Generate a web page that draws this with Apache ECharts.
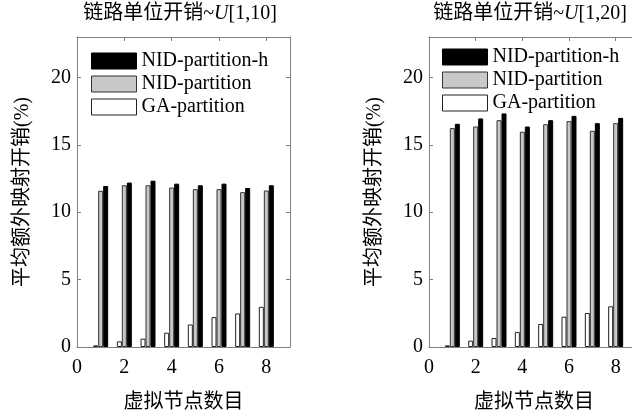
<!DOCTYPE html>
<html>
<head>
<meta charset="utf-8">
<script src="https://cdn.jsdelivr.net/npm/echarts@6/dist/echarts.min.js"></script>
<style>
html,body{margin:0;padding:0;background:#fff;}
#chart{width:632px;height:414px;}
</style>
</head>
<body>
<div id="chart"></div>
<script>
// ---- data ----
const nodeCounts = [1, 2, 3, 4, 5, 6, 7, 8];
const seriesNames = ['GA-partition', 'NID-partition', 'NID-partition-h'];
const legendOrder = ['NID-partition-h', 'NID-partition', 'GA-partition'];
const gaLeft   = [0.12, 0.42, 0.62, 1.06, 1.67, 2.22, 2.49, 2.98];
const nidLeft  = [11.59, 12.0, 12.0, 11.83, 11.71, 11.71, 11.49, 11.61];
const nidhLeft = [11.95, 12.2, 12.34, 12.12, 12.0, 12.12, 11.8, 12.0];
const gaRight   = [0.12, 0.47, 0.67, 1.12, 1.71, 2.25, 2.52, 3.02];
const nidRight  = [16.24, 16.36, 16.83, 15.97, 16.53, 16.76, 16.04, 16.61];
const nidhRight = [16.56, 16.96, 17.33, 16.36, 16.83, 17.15, 16.61, 17.0];
const xTicks = [0, 2, 4, 6, 8];
const yTicks = [0, 5, 10, 15, 20];
const titleLeft = ['链路单位开销~', 'U', '[1,10]'];
const titleRight = ['链路单位开销~', 'U', '[1,20]'];
const xTitle = '虚拟节点数目';
const yTitle = '平均额外映射开销(%)';

// ---- styles ----
const FONT = '"Liberation Serif", "Times New Roman", "Noto Sans CJK SC", serif';
const FRAME = '#7f7f7f';
const styles = {
  'GA-partition':    { color: '#ffffff', borderColor: '#222222', borderWidth: 1 },
  'NID-partition':   { color: '#c8c8c8', borderColor: '#333333', borderWidth: 1 },
  'NID-partition-h': { color: '#000000', borderColor: '#000000', borderWidth: 1 }
};

const chart = echarts.init(document.getElementById('chart'), null, { renderer: 'canvas' });

function fmtX(v) { return xTicks.indexOf(v) >= 0 ? String(v) : ''; }
function fmtY(v) { return yTicks.indexOf(v) >= 0 ? String(v) : ''; }

function xAxes(gi) {
  const base = {
    type: 'value', gridIndex: gi, min: 0, max: 9, interval: 2,
    axisLine: { show: true, onZero: false, lineStyle: { color: FRAME, width: 1 } },
    axisTick: { show: true, inside: true, length: 4, lineStyle: { color: FRAME } },
    splitLine: { show: false }
  };
  return [
    Object.assign({}, base, {
      position: 'bottom',
      axisLabel: { show: true, color: '#000', fontFamily: FONT, fontSize: 20, margin: 11, formatter: fmtX, showMaxLabel: false },
      name: xTitle, nameLocation: 'middle', nameGap: 46,
      nameTextStyle: { color: '#000', fontFamily: FONT, fontSize: 20 }
    }),
    Object.assign({}, base, { position: 'top', axisLabel: { show: false } })
  ];
}
function yAxes(gi) {
  const base = {
    type: 'value', gridIndex: gi, min: 0, max: 23, interval: 5,
    axisLine: { show: true, onZero: false, lineStyle: { color: FRAME, width: 1 } },
    axisTick: { show: true, inside: true, length: 4, lineStyle: { color: FRAME } },
    splitLine: { show: false }
  };
  return [
    Object.assign({}, base, {
      position: 'left',
      axisLabel: { show: true, color: '#000', fontFamily: FONT, fontSize: 20, margin: 6, formatter: fmtY, showMaxLabel: false },
      name: yTitle, nameLocation: 'middle', nameGap: 44, nameRotate: 90,
      nameTextStyle: { color: '#000', fontFamily: FONT, fontSize: 20 }
    }),
    Object.assign({}, base, { position: 'right', axisLabel: { show: false } })
  ];
}

function mkSeries(xi, yi, ga, nid, nidh) {
  const vals = { 'GA-partition': ga, 'NID-partition': nid, 'NID-partition-h': nidh };
  return seriesNames.map(n => ({
    type: 'bar', name: n, xAxisIndex: xi, yAxisIndex: yi,
    data: nodeCounts.map((c, i) => [c, vals[n][i]]),
    barWidth: 5, barGap: '0%',
    itemStyle: styles[n],
    emphasis: { disabled: true },
    animation: false
  }));
}

function mkLegend(left, top) {
  return {
    orient: 'vertical', left: left, top: top, padding: 0,
    itemWidth: 45, itemHeight: 16, itemGap: 3,
    selectedMode: false,
    data: legendOrder.map(n => ({ name: n, icon: 'rect', itemStyle: styles[n] })),
    textStyle: { color: '#000', fontFamily: FONT, fontSize: 20, lineHeight: 20 }
  };
}

function mkTitle(parts, cx) {
  return {
    text: '{a|' + parts[0] + '}{b|' + parts[1] + '}{a|' + parts[2] + '}',
    left: cx, top: 4, textAlign: 'center', padding: 0,
    textStyle: {
      fontWeight: 'normal',
      rich: {
        a: { fontFamily: FONT, fontSize: 20, color: '#000', fontWeight: 'normal' },
        b: { fontFamily: FONT, fontSize: 20, color: '#000', fontWeight: 'normal', fontStyle: 'italic' }
      }
    }
  };
}

const xs = xAxes(0).concat(xAxes(1));
const ys = yAxes(0).concat(yAxes(1));

chart.setOption({
  animation: false,
  backgroundColor: '#ffffff',
  title: [mkTitle(titleLeft, 180), mkTitle(titleRight, 530)],
  legend: [mkLegend(91, 51), mkLegend(442, 47)],
  grid: [
    { left: 77, top: 37, width: 213, height: 310, outerBoundsMode: 'none', containLabel: false },
    { left: 429, top: 37, width: 210, height: 310, outerBoundsMode: 'none', containLabel: false }
  ],
  xAxis: xs,
  yAxis: ys,
  series: mkSeries(0, 0, gaLeft, nidLeft, nidhLeft).concat(mkSeries(2, 2, gaRight, nidRight, nidhRight))
});
</script>
</body>
</html>
